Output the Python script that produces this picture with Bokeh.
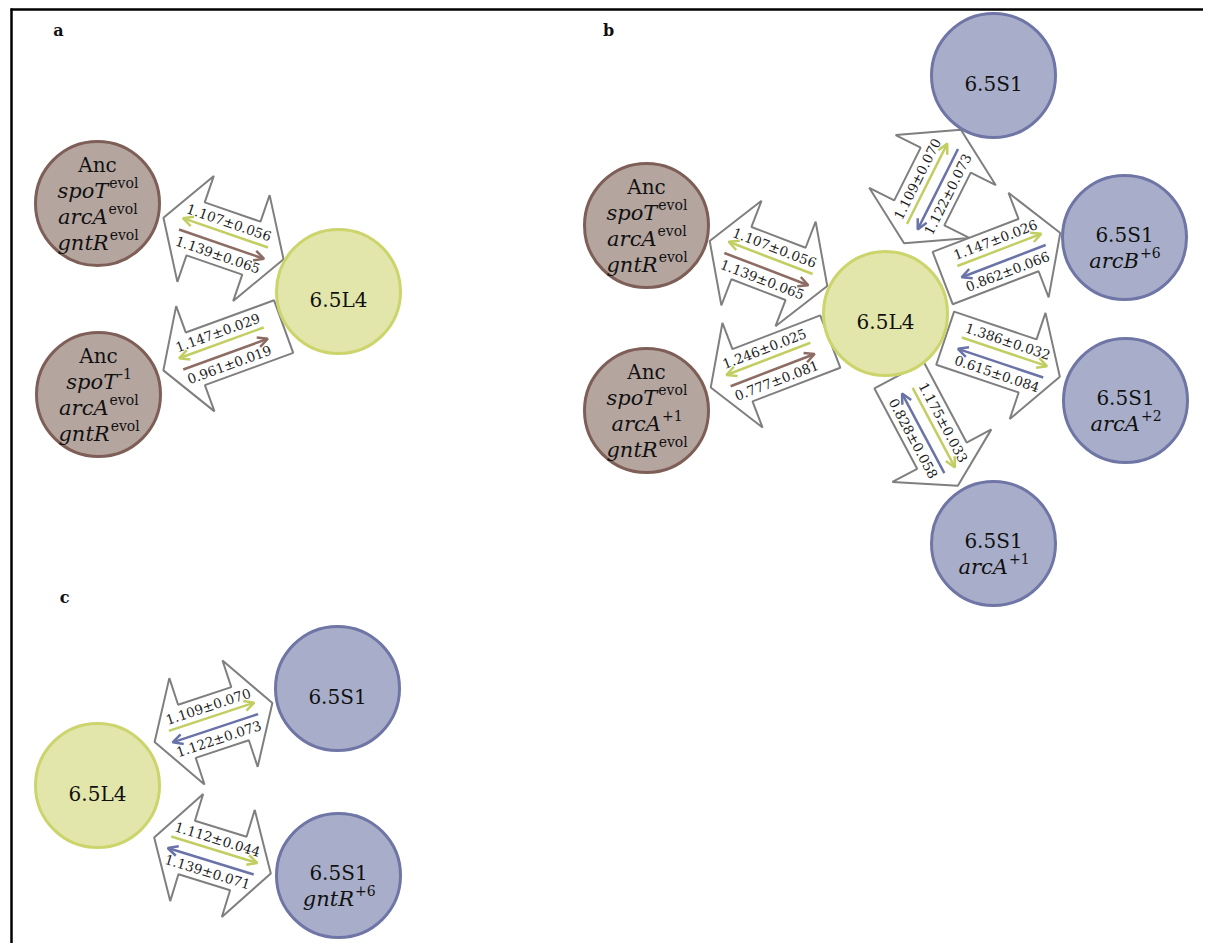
import math
from bokeh.plotting import figure
from bokeh.models import Range1d, ColumnDataSource, Arrow, OpenHead, Grid
from bokeh.embed import file_html
from bokeh.resources import INLINE
from bokeh.core.properties import value

# ---------------- data ----------------
panel_letters = ["a", "b", "c"]

node_ids = ["a_anc1", "a_anc2", "a_l4",
            "b_anc1", "b_anc2", "b_l4", "b_s1", "b_s1_arcB", "b_s1_arcA2", "b_s1_arcA1",
            "c_l4", "c_s1", "c_s1_gntR"]
node_kind = ["anc", "anc", "l4",
             "anc", "anc", "l4", "s1", "s1", "s1", "s1",
             "l4", "s1", "s1"]
node_title = ["Anc", "Anc", "6.5L4",
              "Anc", "Anc", "6.5L4", "6.5S1", "6.5S1", "6.5S1", "6.5S1",
              "6.5L4", "6.5S1", "6.5S1"]
node_genes = [
    [("spoT", "evol"), ("arcA", "evol"), ("gntR", "evol")],
    [("spoT", "-1"), ("arcA", "evol"), ("gntR", "evol")],
    [],
    [("spoT", "evol"), ("arcA", "evol"), ("gntR", "evol")],
    [("spoT", "evol"), ("arcA", "+1"), ("gntR", "evol")],
    [],
    [],
    [("arcB", "+6")],
    [("arcA", "+2")],
    [("arcA", "+1")],
    [],
    [],
    [("gntR", "+6")],
]

edge_from = ["a_anc1", "a_anc2", "b_anc1", "b_anc2", "b_l4", "b_l4", "b_l4", "b_l4", "c_l4", "c_l4"]
edge_to = ["a_l4", "a_l4", "b_l4", "b_l4", "b_s1", "b_s1_arcB", "b_s1_arcA2", "b_s1_arcA1", "c_s1", "c_s1_gntR"]
fitness_upper = ["1.107±0.056", "1.147±0.029", "1.107±0.056", "1.246±0.025", "1.109±0.070",
                 "1.147±0.026", "1.386±0.032", "1.175±0.033", "1.109±0.070", "1.112±0.044"]
fitness_lower = ["1.139±0.065", "0.961±0.019", "1.139±0.065", "0.777±0.081", "1.122±0.073",
                 "0.862±0.066", "0.615±0.084", "0.828±0.058", "1.122±0.073", "1.139±0.071"]
# which node the upper (green) small arrow points to
upper_points_to = ["from", "from", "from", "from", "to", "to", "to", "to", "to", "to"]

# ---------------- layout (picture pixel coordinates) ----------------
NODE_POS = {
    "a_anc1": (97, 203), "a_anc2": (98, 394), "a_l4": (338, 291),
    "b_anc1": (646, 225), "b_anc2": (646, 410), "b_l4": (885, 313),
    "b_s1": (993, 75), "b_s1_arcB": (1124, 237), "b_s1_arcA2": (1125, 400), "b_s1_arcA1": (993, 543),
    "c_l4": (97, 785), "c_s1": (337, 688), "c_s1_gntR": (338, 875),
}
NODE_R = 62
# block arrow: centre x, centre y, angle (deg, screen, clockwise), length, heads
EDGE_GEOM = [
    (223, 238, 19.0, 127, "both"),
    (223, 348, -20.0, 128, "start"),
    (768, 263, 21.0, 126, "both"),
    (770, 364, -21.0, 128, "start"),
    (932, 186, -63.4, 127, "both"),
    (1001, 255, -21.0, 126, "end"),
    (1002, 357, 18.6, 121, "end"),
    (928, 430, 62.0, 125, "end"),
    (213, 722, -18.3, 124, "both"),
    (212, 855, 17.1, 122, "both"),
]
LETTER_POS = [(58, 30), (608, 30), (64, 597)]

FILL = {"anc": "#b5a59f", "l4": "#e2e6ab", "s1": "#a8aec9"}
STROKE = {"anc": "#7e5f57", "l4": "#ccd46c", "s1": "#6f76a6"}
GREEN, BROWN, BLUE = "#c2ce62", "#8c6c63", "#6a73a8"
SERIF = "DejaVu Serif"

W_REG = {'A': 0.722, 'n': 0.644, 'c': 0.593, 'e': 0.592, 'v': 0.580, 'o': 0.602, 'l': 0.320,
         '+': 0.838, '-': 0.338, '1': 0.636, '2': 0.636, '6': 0.636}
W_ITA = {'s': 0.513, 'p': 0.640, 'o': 0.602, 'T': 0.672, 'a': 0.596, 'r': 0.478, 'c': 0.560,
         'A': 0.722, 'g': 0.640, 'n': 0.644, 't': 0.402, 'R': 0.770, 'B': 0.735}


def tw(s, size, table):
    return sum(table.get(ch, 0.6) for ch in s) * size


def block_arrow(cx, cy, th, L, heads, hl=34, hw=56, sw=28):
    h = L / 2.0
    pts = []
    if heads in ("both", "end"):
        pts += [(h, 0), (h - hl, hw), (h - hl, sw)]
    else:
        pts += [(h, -sw), (h, sw)]
    if heads in ("both", "start"):
        pts += [(-h + hl, sw), (-h + hl, hw), (-h, 0), (-h + hl, -hw), (-h + hl, -sw)]
    else:
        pts += [(-h, sw), (-h, -sw)]
    if heads in ("both", "end"):
        pts += [(h - hl, -sw), (h - hl, -hw)]
    c, s = math.cos(math.radians(th)), math.sin(math.radians(th))
    xs = [cx + a * c - b * s for a, b in pts]
    ys = [cy + a * s + b * c for a, b in pts]
    return xs, ys


def local(cx, cy, th, a, b):
    c, s = math.cos(math.radians(th)), math.sin(math.radians(th))
    return cx + a * c - b * s, cy + a * s + b * c


# ---------------- figure ----------------
FW, FH = 1203, 943
p = figure(width=FW, height=FH, x_range=Range1d(0, FW), y_range=Range1d(FH, 0),
           output_backend="svg", toolbar_location=None,
           x_axis_location=None, y_axis_location=None, min_border=0,
           outline_line_color=None, background_fill_color="white", border_fill_color="white")
for obj in list(p.center):
    if isinstance(obj, Grid):
        obj.visible = False

# frame
p.line([10, FW], [9, 9], line_color="black", line_width=2.5)
p.line([11, 11], [8, FH], line_color="black", line_width=2.5)

# block arrows
bx, by = [], []
for (cx, cy, th, L, heads) in EDGE_GEOM:
    xs, ys = block_arrow(cx, cy, th, L, heads)
    bx.append(xs)
    by.append(ys)
p.patches(bx, by, fill_color="white", line_color="#7f7f7f", line_width=2)

# small coloured arrows + values
arr = {GREEN: dict(xs=[], ys=[], xe=[], ye=[]), BROWN: dict(xs=[], ys=[], xe=[], ye=[]),
       BLUE: dict(xs=[], ys=[], xe=[], ye=[])}
tx, ty, tt, ta = [], [], [], []
for i, (cx, cy, th, L, heads) in enumerate(EDGE_GEOM):
    lower_col = BROWN if node_kind[node_ids.index(edge_from[i])] == "anc" else BLUE
    up_dir = -1 if upper_points_to[i] == "from" else 1
    for col, off, d in ((GREEN, -6, up_dir), (lower_col, 6, -up_dir)):
        x0, y0 = local(cx, cy, th, -45 * d, off)
        x1, y1 = local(cx, cy, th, 45 * d, off)
        arr[col]["xs"].append(x0); arr[col]["ys"].append(y0)
        arr[col]["xe"].append(x1); arr[col]["ye"].append(y1)
    for txt, off in ((fitness_upper[i], -17), (fitness_lower[i], 17)):
        x, y = local(cx, cy, th, 0, off)
        tx.append(x); ty.append(y); tt.append(txt); ta.append(-math.radians(th))

for col, d in arr.items():
    if not d["xs"]:
        continue
    src = ColumnDataSource(dict(x0=d["xs"], y0=d["ys"], x1=d["xe"], y1=d["ye"]))
    p.add_layout(Arrow(x_start="x0", y_start="y0", x_end="x1", y_end="y1", source=src,
                       line_color=col, line_width=2.5,
                       end=OpenHead(size=10, line_color=col, line_width=2.5)))

p.text(x=tx, y=ty, text=tt, angle=ta, text_font=value(SERIF), text_font_size="13.5px",
       text_align="center", text_baseline="middle", text_color="#1e1e1e")

# nodes
ncx = [NODE_POS[n][0] for n in node_ids]
ncy = [NODE_POS[n][1] for n in node_ids]
p.circle(x=ncx, y=ncy, radius=NODE_R,
         fill_color=[FILL[k] for k in node_kind],
         line_color=[STROKE[k] for k in node_kind], line_width=3)

# node labels
T_SIZE, I_SIZE, S_SIZE = 20, 21, 14
title_x, title_y, title_t = [], [], []
gx, gy, gt, sx, sy, st = [], [], [], [], [], []
for n, title, genes in zip(node_ids, node_title, node_genes):
    cx, cy = NODE_POS[n]
    if len(genes) == 0:
        offs_t, offs_g = 8, []
    elif len(genes) == 1:
        offs_t, offs_g = -3, [23]
    else:
        offs_t, offs_g = -39, [-13, 13, 39]
    title_x.append(cx); title_y.append(cy + offs_t); title_t.append(title)
    for (g, sup), og in zip(genes, offs_g):
        b = cx + (tw(g, I_SIZE, W_ITA) - tw(sup, S_SIZE, W_REG)) / 2.0
        gx.append(b); gy.append(cy + og); gt.append(g)
        sx.append(b + 1); sy.append(cy + og - 8); st.append(sup)

p.text(x=title_x, y=title_y, text=title_t, text_font=value(SERIF), text_font_size=f"{T_SIZE}px",
       text_align="center", text_baseline="alphabetic", text_color="#111111")
p.text(x=gx, y=gy, text=gt, text_font=value(SERIF), text_font_style="italic",
       text_font_size=f"{I_SIZE}px", text_align="right", text_baseline="alphabetic",
       text_color="#111111")
p.text(x=sx, y=sy, text=st, text_font=value(SERIF), text_font_size=f"{S_SIZE}px",
       text_align="left", text_baseline="alphabetic", text_color="#111111")

# panel letters
p.text(x=[q[0] for q in LETTER_POS], y=[q[1] for q in LETTER_POS], text=panel_letters,
       text_font=value(SERIF), text_font_style="bold", text_font_size="16px",
       text_align="center", text_baseline="middle", text_color="#111111")

open("out.html", "w").write(file_html(p, INLINE))
